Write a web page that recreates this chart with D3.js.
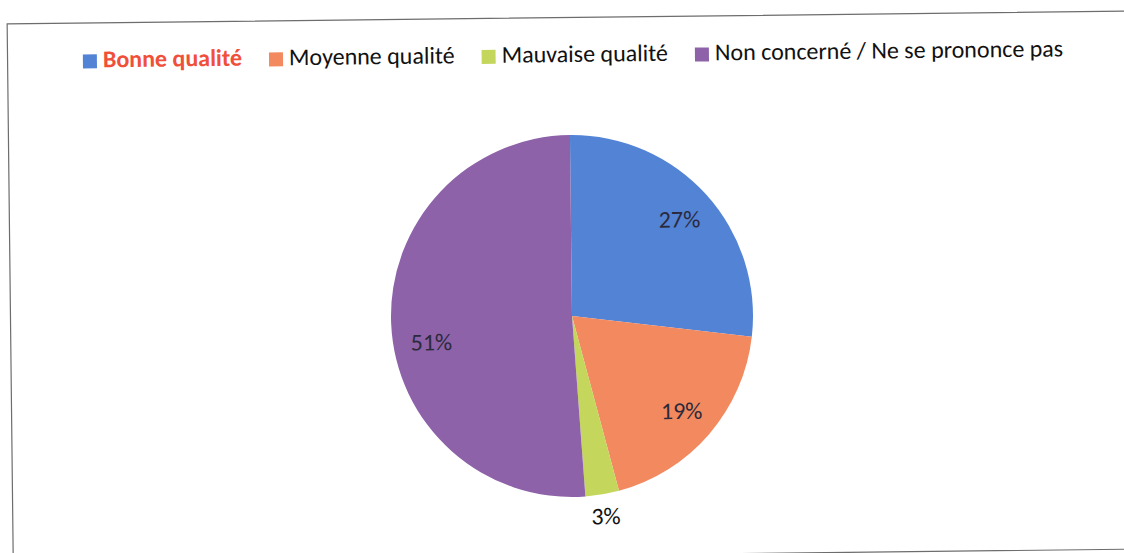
<!DOCTYPE html>
<html>
<head>
<meta charset="utf-8">
<script src="https://cdn.jsdelivr.net/npm/d3@7"></script>
<style>
  body { margin: 0; background: #fff; }
  svg { display: block; }
  text { font-family: Carlito, Calibri, Lato, "Open Sans", sans-serif; }
</style>
</head>
<body>
<div id="chart"></div>
<script>
// data
var categories = ["Bonne qualité", "Moyenne qualité", "Mauvaise qualité", "Non concerné / Ne se prononce pas"];
var values = [27, 19, 3, 51];
var labels = ["27%", "19%", "3%", "51%"];
var colors = ["#5383d5", "#f2895f", "#c5d65c", "#8d62a9"];

var W = 1124, H = 553;
var cx = 572, cy = 316, radius = 181;

var svg = d3.select("#chart")
  .append("svg")
    .attr("width", W)
    .attr("height", H);

// the scan is a little tilted
var g = svg.append("g")
  .attr("transform", "rotate(-0.65," + cx + "," + cy + ")");

// chart border
g.append("rect")
  .attr("x", 10.5)
  .attr("y", 17.5)
  .attr("width", 1140)
  .attr("height", 538)
  .attr("fill", "none")
  .attr("stroke", "#6d6d6d")
  .attr("stroke-width", 1.2);

var data = categories.map(function(c, i) {
  return {name: c, value: values[i], label: labels[i], color: colors[i]};
});

var pie = d3.pie()
  .sort(null)
  .value(function(d) { return d.value; });

var arc = d3.arc()
  .innerRadius(0)
  .outerRadius(radius);

var arcs = pie(data);

var pieG = g.append("g")
  .attr("transform", "translate(" + cx + "," + cy + ")");

pieG.selectAll("path")
  .data(arcs)
  .enter()
  .append("path")
    .attr("d", arc)
    .attr("fill", function(d) { return d.data.color; });

// label placement: inside at 0.8r, the small slice goes outside
function labelPos(d, i) {
  var a = (d.startAngle + d.endAngle) / 2;
  var r = radius * 0.8;
  if (d.endAngle - d.startAngle < 0.3) r = radius * 1.12;
  if (i === 3) { a -= 8 * Math.PI / 180; r = radius * 0.79; }
  return [Math.sin(a) * r, -Math.cos(a) * r];
}

pieG.selectAll("text.lbl")
  .data(arcs)
  .enter()
  .append("text")
    .attr("class", "lbl")
    .attr("x", function(d, i) { return labelPos(d, i)[0]; })
    .attr("y", function(d, i) { return labelPos(d, i)[1]; })
    .attr("dy", "0.35em")
    .attr("text-anchor", "middle")
    .style("font-size", "24px")
    .style("fill", function(d) { return d.endAngle - d.startAngle < 0.3 ? "#111" : "#2b2a3c"; })
    .text(function(d) { return d.data.label; });

// legend
var legend = g.append("g");
var fs = 24, sq = 14, gap = 6, spacing = 27;
var xpos = 0;
data.forEach(function(d, i) {
  var item = legend.append("g").attr("transform", "translate(" + xpos + ",0)");
  item.append("rect")
    .attr("x", 0)
    .attr("y", -sq + 1)
    .attr("width", sq)
    .attr("height", sq)
    .attr("fill", d.color);
  var t = item.append("text")
    .attr("x", sq + gap)
    .attr("y", 0)
    .style("font-size", fs + "px")
    .style("font-weight", i === 0 ? "bold" : "normal")
    .style("fill", i === 0 ? "#f04f3a" : "#111")
    .text(d.name);
  xpos += sq + gap + t.node().getComputedTextLength() + spacing;
});
var legendW = xpos - spacing;
legend.attr("transform", "translate(" + (576 - legendW / 2) + ",62)");
</script>
</body>
</html>
